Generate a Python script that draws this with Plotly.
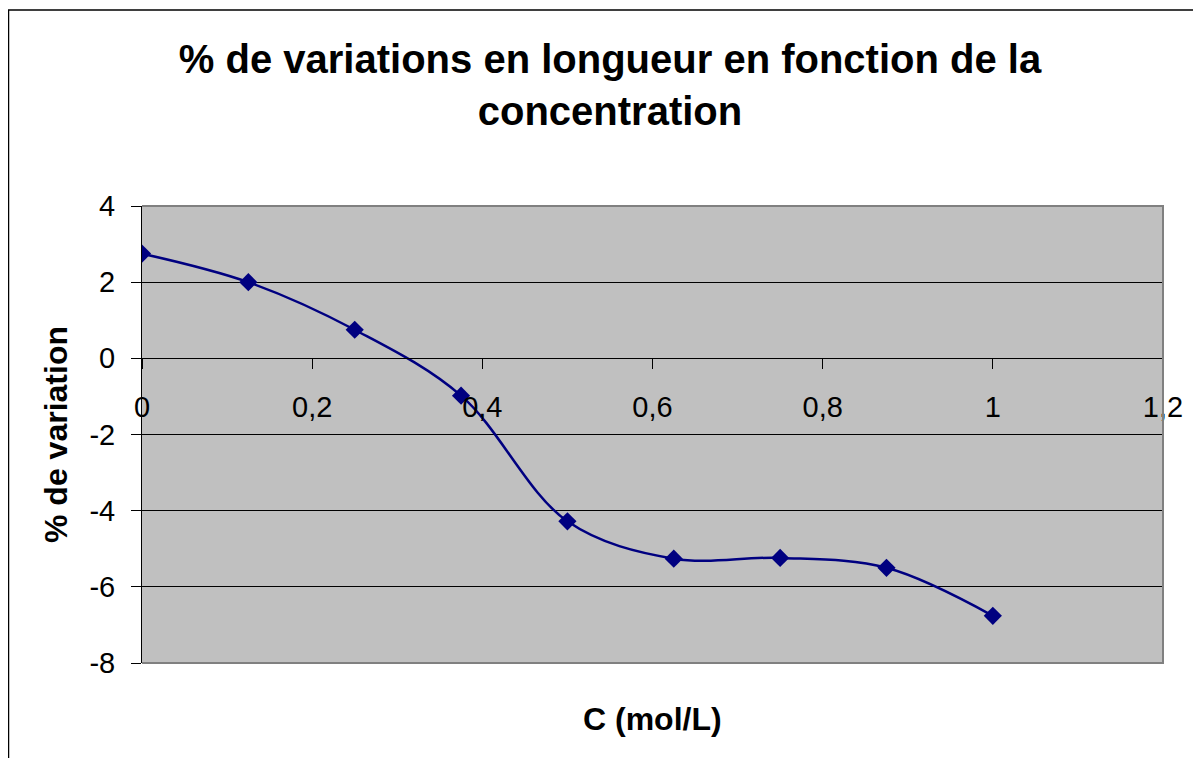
import plotly.graph_objects as go

# Data
concentration = [0, 0.125, 0.25, 0.375, 0.5, 0.625, 0.75, 0.875, 1]
variation = [2.75, 2.0, 0.75, -0.98, -4.28, -5.26, -5.24, -5.5, -6.76]
x_ticks = [0, 0.2, 0.4, 0.6, 0.8, 1.0, 1.2]
x_tick_labels = ["0", "0,2", "0,4", "0,6", "0,8", "1", "1,2"]
y_ticks = [-8, -6, -4, -2, 0, 2, 4]
y_tick_labels = ["-8", "-6", "-4", "-2", "0", "2", "4"]

title_text = "% de variations en longueur en fonction de la<br>concentration"
x_title = "C (mol/L)"
y_title = "% de variation"

FONT = "Liberation Sans, Arial, sans-serif"
NAVY = "#000080"

fig = go.Figure()
fig.add_trace(go.Scatter(
    x=concentration, y=variation, mode="lines+markers",
    line=dict(color=NAVY, width=2.5, shape="spline", smoothing=1),
    marker=dict(symbol="diamond", size=14, color=NAVY),
    showlegend=False, hoverinfo="x+y",
))

# page has an 8px body margin, so the figure is laid out in its own coordinates
W, H = 1193, 750
L, R, T, B = 134, 38, 198, 95
pw, ph = W - L - R, H - T - B

y_min, y_max = y_ticks[0], y_ticks[-1]
zero_pos = (0 - y_min) / (y_max - y_min)

fig.update_layout(
    width=W, height=H,
    margin=dict(l=L, r=R, t=T, b=B, pad=0),
    paper_bgcolor="white", plot_bgcolor="#C0C0C0",
    font=dict(family=FONT, color="black"),
    title=dict(text="<b>" + title_text + "</b>", x=602 / W, xanchor="center",
               y=1 - 65 / H, yanchor="middle", yref="container",
               font=dict(size=40, family=FONT, color="black")),
    xaxis=dict(range=[x_ticks[0], x_ticks[-1]], tickvals=x_ticks, ticktext=x_tick_labels,
               ticks="outside", ticklen=10, tickcolor="black", tickwidth=1,
               showline=True, linecolor="black", linewidth=1,
               showgrid=False, zeroline=False,
               anchor="free", position=zero_pos,
               tickfont=dict(size=29, family=FONT, color="black"),
               ticklabelstandoff=13),
    yaxis=dict(range=[y_min, y_max], tickvals=y_ticks, ticktext=y_tick_labels,
               ticks="outside", ticklen=10, tickcolor="black", tickwidth=1,
               showline=True, linecolor="black", linewidth=1,
               showgrid=True, gridcolor="black", gridwidth=1, zeroline=False,
               tickfont=dict(size=29, family=FONT, color="black"),
               ticklabelstandoff=10,
               title=dict(text="<b>" + y_title + "</b>", standoff=12,
                          font=dict(size=32, family=FONT, color="black"))),
)

# x-axis title (axis crosses at y=0, so title placed at bottom like Excel)
fig.add_annotation(text="<b>" + x_title + "</b>", xref="paper", yref="paper",
                   x=0.5, y=-(711 - (T + ph)) / ph, xanchor="center", yanchor="middle",
                   showarrow=False, font=dict(size=32, family=FONT, color="black"))

# plot-area border (gray) on top, right and bottom
fig.add_shape(type="path", xref="paper", yref="paper",
              path="M 0 1 L 1 1 L 1 0 L 0 0", line=dict(color="#808080", width=2),
              layer="above")

# chart-area outer border (black)
bx = (0.5 - L) / pw
by = (T + ph - 2) / ph
fig.add_shape(type="path", xref="paper", yref="paper",
              path=f"M {bx} -0.5 L {bx} {by} L 1.2 {by}",
              line=dict(color="black", width=1.5), layer="above")

fig.write_html("out.html")
